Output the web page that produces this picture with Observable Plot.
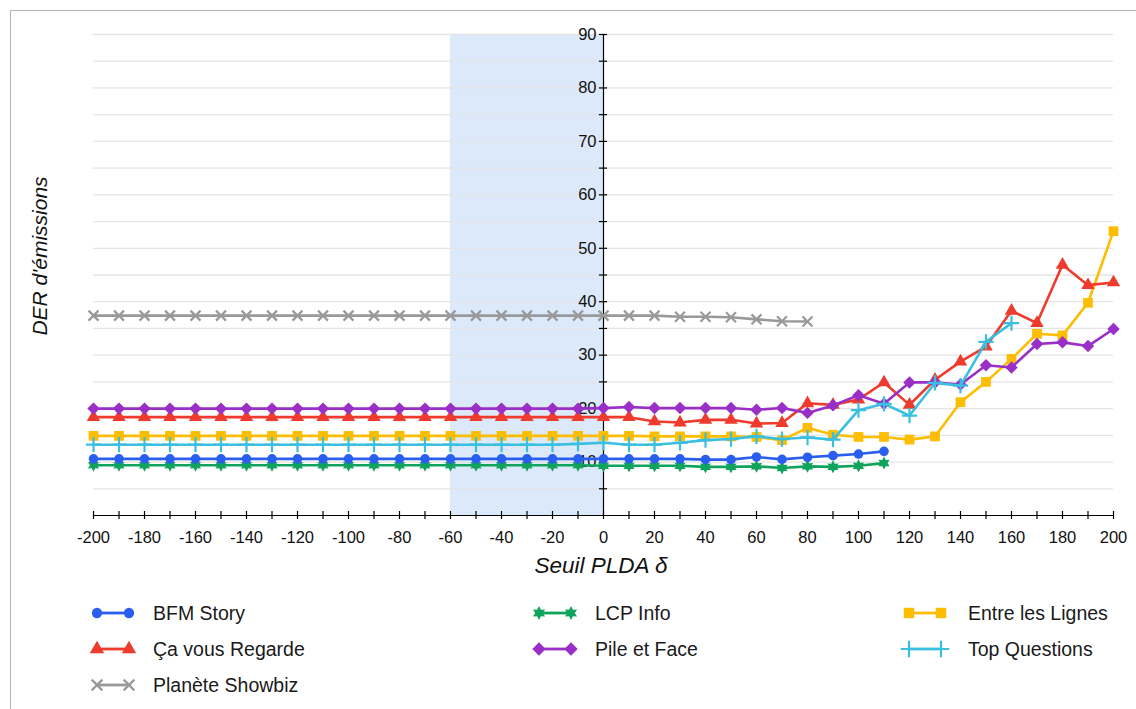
<!DOCTYPE html>
<html>
<head>
<meta charset="utf-8">
<script src="https://cdn.jsdelivr.net/npm/d3@7"></script>
<script src="https://cdn.jsdelivr.net/npm/@observablehq/plot@0.6"></script>
<style>
  html, body { margin: 0; padding: 0; background: #fff; }
  body { width: 1136px; height: 709px; position: relative; overflow: hidden; font-family: "Liberation Sans", Arial, sans-serif; }
  #card { position: absolute; left: 10px; top: 10px; width: 1300px; height: 900px; border-top: 1px solid #b5b5b5; border-left: 1px solid #b5b5b5; }
  #chart { position: absolute; left: 0; top: 0; }
  .axlabel { position: absolute; font-style: italic; font-size: 21px; color: #111; white-space: nowrap; }
  .leg { position: absolute; font-size: 19.5px; color: #1a1a1a; white-space: nowrap; transform: translateY(-50%); }
  .legicon { position: absolute; }
</style>
</head>
<body>
<div id="card"></div>
<div id="chart"></div>
<div class="axlabel" id="xlab" style="left:0;width:1202px;text-align:center;top:553px;font-size:22.5px;">Seuil PLDA δ</div>
<div class="axlabel" id="ylab" style="left:40px;top:256px;transform:translate(-50%,-50%) rotate(-90deg);">DER d'émissions</div>
<div id="legend"></div>
<script>
// ---------- data ----------
const thresholds = [-200,-190,-180,-170,-160,-150,-140,-130,-120,-110,-100,-90,-80,-70,-60,-50,-40,-30,-20,-10,
  0,10,20,30,40,50,60,70,80,90,100,110,120,130,140,150,160,170,180,190,200];

const bfmStory = [10.6,10.6,10.6,10.6,10.6,10.6,10.6,10.6,10.6,10.6,10.6,10.6,10.6,10.6,10.6,10.6,10.6,10.6,10.6,10.6,
  10.6,10.6,10.6,10.6,10.45,10.45,10.95,10.5,10.9,11.2,11.5,12.0];
const lcpInfo = [9.4,9.4,9.4,9.4,9.4,9.4,9.4,9.4,9.4,9.4,9.4,9.4,9.4,9.4,9.4,9.4,9.4,9.4,9.4,9.4,
  9.3,9.3,9.3,9.3,9.1,9.1,9.2,8.9,9.2,9.1,9.3,9.8];
const entreLesLignes = [14.9,14.9,14.9,14.9,14.9,14.9,14.9,14.9,14.9,14.9,14.9,14.9,14.9,14.9,14.9,14.9,14.9,14.9,14.9,14.9,
  14.9,14.9,14.8,14.8,14.8,14.8,14.7,14.1,16.4,15.1,14.7,14.7,14.2,14.8,21.2,25.0,29.3,34.0,33.7,39.8,53.2];
const caVousRegarde = [18.4,18.4,18.4,18.4,18.4,18.4,18.4,18.4,18.4,18.4,18.4,18.4,18.4,18.4,18.4,18.4,18.4,18.4,18.4,18.4,
  18.4,18.4,17.6,17.4,17.9,17.9,17.2,17.3,21.0,20.7,21.7,24.9,20.7,25.4,28.8,31.6,38.3,36.0,46.9,43.1,43.6];
const pileEtFace = [20.0,20.0,20.0,20.0,20.0,20.0,20.0,20.0,20.0,20.0,20.0,20.0,20.0,20.0,20.0,20.0,20.0,20.0,20.0,20.0,
  20.1,20.3,20.1,20.1,20.1,20.1,19.8,20.1,19.2,20.6,22.5,20.9,24.9,24.9,24.5,28.1,27.7,32.1,32.4,31.7,34.9];
const topQuestions = [13.25,13.25,13.25,13.25,13.25,13.25,13.25,13.25,13.25,13.25,13.25,13.25,13.25,13.25,13.25,13.25,13.25,13.25,13.25,13.4,
  13.6,13.25,13.25,13.6,14.1,14.3,14.8,14.3,14.6,14.2,19.7,20.9,18.7,24.8,24.3,32.5,36.0];
const planeteShowbiz = [37.4,37.4,37.4,37.4,37.4,37.4,37.4,37.4,37.4,37.4,37.4,37.4,37.4,37.4,37.4,37.4,37.4,37.4,37.4,37.4,
  37.4,37.4,37.4,37.2,37.2,37.1,36.7,36.35,36.3];

const seriesNames = ["BFM Story","Ça vous Regarde","Planète Showbiz","LCP Info","Pile et Face","Entre les Lignes","Top Questions"];
const seriesColors = ["#2a5ef0","#ee3b2d","#999999","#10a35b","#9a2fc8","#fdbd00","#3bbfe0"];

const yGrid = [5,10,15,20,25,30,35,40,45,50,55,60,65,70,75,80,85,90];
const yTickLabels = [10,20,30,40,50,60,70,80,90];
const xTickLabels = [-200,-180,-160,-140,-120,-100,-80,-60,-40,-20,0,20,40,60,80,100,120,140,160,180,200];
const highlight = [{from: -60, to: 0}];

// ---------- symbols ----------
const star6 = {
  draw(context, size) {
    const R = Math.sqrt(size / Math.PI) * 1.25, r = R * 0.55;
    for (let i = 0; i < 12; i++) {
      const a = -Math.PI / 2 + i * Math.PI / 6;
      const rad = i % 2 ? r : R;
      const px = rad * Math.cos(a), py = rad * Math.sin(a);
      if (i === 0) context.moveTo(px, py); else context.lineTo(px, py);
    }
    context.closePath();
  }
};
const styles = {
  "BFM Story":        {symbol: "circle",   r: 4.8, filled: true},
  "Ça vous Regarde":  {symbol: "triangle", r: 5.0, filled: true},
  "Planète Showbiz":  {symbol: "times",    r: 4.6, filled: false},
  "LCP Info":         {symbol: star6,      r: 5.2, filled: true},
  "Pile et Face":     {symbol: "diamond2", r: 5.6, filled: true},
  "Entre les Lignes": {symbol: "square",   r: 5.5, filled: true},
  "Top Questions":    {symbol: "plus",     r: 5.0, filled: false}
};
const seriesValues = {
  "BFM Story": bfmStory, "Ça vous Regarde": caVousRegarde, "Planète Showbiz": planeteShowbiz,
  "LCP Info": lcpInfo, "Pile et Face": pileEtFace, "Entre les Lignes": entreLesLignes, "Top Questions": topQuestions
};
const colorOf = Object.fromEntries(seriesNames.map((n, i) => [n, seriesColors[i]]));

const drawOrder = ["Planète Showbiz","Entre les Lignes","Ça vous Regarde","Pile et Face","LCP Info","BFM Story","Top Questions"];
const seriesMarks = [];
for (const name of drawOrder) {
  const vals = seriesValues[name];
  const rows = vals.map((v, i) => ({x: thresholds[i], y: v}));
  const st = styles[name];
  const c = colorOf[name];
  seriesMarks.push(Plot.line(rows, {x: "x", y: "y", stroke: c, strokeWidth: 2.6, strokeLinejoin: "round"}));
  seriesMarks.push(Plot.dot(rows, st.filled
    ? {x: "x", y: "y", symbol: st.symbol, r: st.r, fill: c, stroke: "none"}
    : {x: "x", y: "y", symbol: st.symbol, r: st.r, fill: "none", stroke: c, strokeWidth: 2.2}));
}

const chart = Plot.plot({
  width: 1136, height: 590,
  marginLeft: 93, marginRight: 23, marginTop: 34, marginBottom: 75,
  x: {domain: [-200, 200], axis: null},
  y: {domain: [0, 90], axis: null},
  style: {fontFamily: "'Liberation Sans', Arial, sans-serif", fontSize: "16px", background: "transparent", overflow: "visible", color: "#111"},
  marks: [
    Plot.rect(highlight, {x1: "from", x2: "to", y1: 0, y2: 90, fill: "#dce9fb"}),
    Plot.ruleY(yGrid, {stroke: "#e4e4e4", strokeWidth: 1.3}),
    Plot.ruleX([0], {y1: 0, y2: 90, stroke: "#000", strokeWidth: 1.2}),
    Plot.ruleY(yGrid, {x1: -1.6, x2: 1.6, stroke: "#000", strokeWidth: 1.2}),
    Plot.text(yTickLabels, {x: 0, y: d => d, text: d => String(d), dx: -7, textAnchor: "end", fontSize: 16.5, fill: "#111"}),
    Plot.ruleY([0], {stroke: "#000", strokeWidth: 1.2}),
    Plot.ruleX(thresholds, {y1: -0.75, y2: 0.75, stroke: "#000", strokeWidth: 1.2}),
    Plot.text(xTickLabels, {x: d => d, y: 0, text: d => String(d), dy: 22, fontSize: 16.5, fill: "#111"}),
    ...seriesMarks
  ]
});
document.getElementById("chart").appendChild(chart);

// ---------- legend ----------
const legendLayout = [
  ["BFM Story", 0, 0], ["LCP Info", 1, 0], ["Entre les Lignes", 2, 0],
  ["Ça vous Regarde", 0, 1], ["Pile et Face", 1, 1], ["Top Questions", 2, 1],
  ["Planète Showbiz", 0, 2]
];
const colIcon = [87, 529, 899], colText = [153, 595, 968], rowY = [613, 649, 685];
const d3Types = {circle: d3.symbolCircle, triangle: d3.symbolTriangle, times: d3.symbolTimes, diamond2: d3.symbolDiamond2, square: d3.symbolSquare, plus: d3.symbolPlus};
const legend = document.getElementById("legend");
for (const [name, col, row] of legendLayout) {
  const st = styles[name], c = colorOf[name];
  const type = typeof st.symbol === "string" ? d3Types[st.symbol] : st.symbol;
  const path = d3.symbol(type, Math.PI * st.r * st.r * 1.15)();
  const svg = d3.create("svg").attr("class", "legicon").attr("width", 52).attr("height", 22)
    .style("left", colIcon[col] + "px").style("top", (rowY[row] - 11) + "px");
  svg.append("line").attr("x1", 10).attr("x2", 42).attr("y1", 11).attr("y2", 11).attr("stroke", c).attr("stroke-width", 2.8);
  for (const cx of [10, 42]) {
    svg.append("path").attr("d", path).attr("transform", `translate(${cx},11)`)
      .attr("fill", st.filled ? c : "none").attr("stroke", st.filled ? "none" : c).attr("stroke-width", 2.2);
  }
  legend.appendChild(svg.node());
  const t = document.createElement("div");
  t.className = "leg";
  t.textContent = name;
  t.style.left = colText[col] + "px";
  t.style.top = rowY[row] + "px";
  legend.appendChild(t);
}
</script>
</body>
</html>
